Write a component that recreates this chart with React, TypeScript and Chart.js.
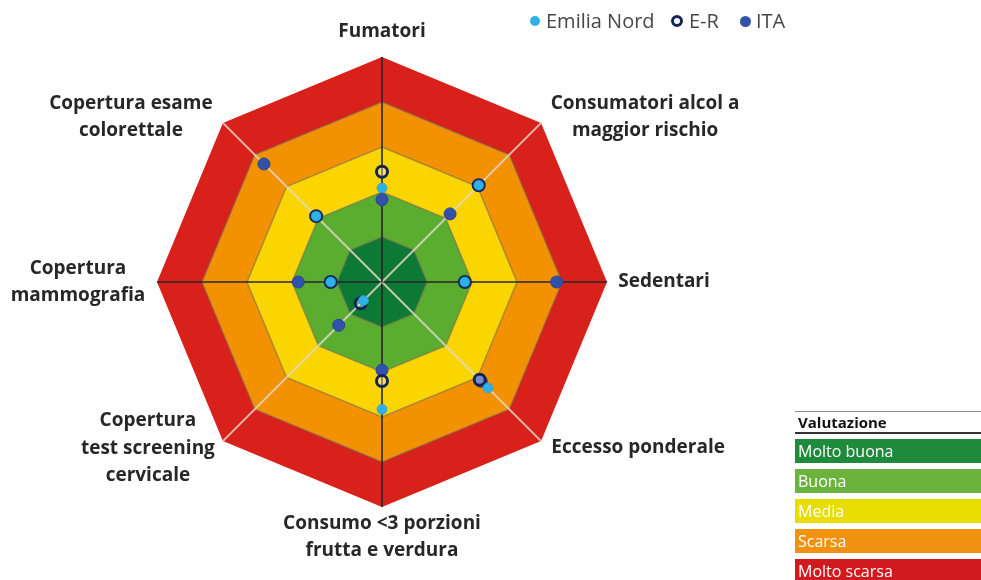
import React, { useEffect, useRef } from "react";
import { Chart, registerables } from "chart.js";

Chart.register(...registerables);

// ---- data ----
const categories: string[][] = [
  ["Fumatori"],
  ["Consumatori alcol a", "maggior rischio"],
  ["Sedentari"],
  ["Eccesso ponderale"],
  ["Consumo <3 porzioni", "frutta e verdura"],
  ["Copertura", "test screening", "cervicale"],
  ["Copertura", "mammografia"],
  ["Copertura esame", "colorettale"],
];
const seriesNames = ["Emilia Nord", "E-R", "ITA"];
const emiliaNord = [2.09, 3.04, 1.84, 3.33, 2.83, 0.58, 1.14, 2.07];
const emiliaRomagna = [2.45, 3.04, 1.84, 3.07, 2.2, 0.67, 1.14, 2.07];
const italia = [1.83, 2.14, 3.88, 3.12, 1.96, 1.36, 1.86, 3.71];
const bandNames = ["Molto buona", "Buona", "Media", "Scarsa", "Molto scarsa"];
const bandLevels = [1, 2, 3, 4, 5];
const bandColors = ["#0c7a35", "#5bad2f", "#fbd500", "#f39200", "#d9211b"];
const legendColors = ["#1d8a3c", "#6cb33e", "#e7de00", "#f0920f", "#d11a1f"];
const valutazioneTitle = "Valutazione";

// ---- layout (not data) ----
const LABEL_OFFSETS: [number, number][] = [
  [0, -25],
  [104, -6],
  [57, 0],
  [97, 6],
  [0, 30],
  [-75, 7],
  [-79, 0],
  [-92, -6],
];

const labelPlugin = {
  id: "axisLabels",
  afterDraw(chart: any) {
    const scale = chart.scales.r;
    const ctx = chart.ctx;
    ctx.save();
    ctx.font = 'bold 19px "Open Sans"';
    ctx.fillStyle = "#272727";
    ctx.textAlign = "center";
    ctx.textBaseline = "middle";
    categories.forEach((lines, i) => {
      const p = scale.getPointPosition(i, scale.drawingArea);
      const [dx, dy] = LABEL_OFFSETS[i];
      const cx = p.x + dx;
      const cy = p.y + dy;
      const lh = 27.5;
      lines.forEach((t, j) => {
        ctx.fillText(t, cx, cy + (j - (lines.length - 1) / 2) * lh);
      });
    });
    ctx.restore();
  },
};

const gridOverBands = {
  id: "gridOverBands",
  afterDatasetDraw(chart: any, args: any) {
    if (args.index === 3) {
      chart.scales.r.drawGrid(chart.chartArea);
    }
  },
};

export default function App() {
  const ref = useRef<HTMLCanvasElement | null>(null);

  useEffect(() => {
    if (!ref.current) return;
    const common = {
      showLine: false,
      fill: false,
      borderWidth: 0,
      borderColor: "rgba(0,0,0,0)",
      backgroundColor: "rgba(0,0,0,0)",
    };
    const pointSets = [
      {
        ...common,
        label: seriesNames[0],
        data: emiliaNord,
        pointRadius: 5,
        pointBackgroundColor: "#2fb0e6",
        pointBorderColor: "#1f9bd3",
        pointBorderWidth: 0.5,
      },
      {
        ...common,
        label: seriesNames[1],
        data: emiliaRomagna,
        pointRadius: 5.5,
        pointBackgroundColor: "rgba(255,255,255,0.35)",
        pointBorderColor: "#13245a",
        pointBorderWidth: 3,
      },
      {
        ...common,
        label: seriesNames[2],
        data: italia,
        pointRadius: 6,
        pointBackgroundColor: "#3152a8",
        pointBorderColor: "#28449a",
        pointBorderWidth: 1,
      },
    ];
    const bandSets = bandLevels.map((lvl, k) => ({
      label: bandNames[k],
      data: categories.map(() => lvl),
      fill: "origin",
      backgroundColor: bandColors[k],
      borderColor: k === 4 ? "rgba(0,0,0,0)" : "rgba(120,110,90,0.6)",
      borderWidth: 1.5,
      pointRadius: 0,
    }));
    const chart = new Chart(ref.current, {
      type: "radar",
      data: {
        labels: categories.map((l) => l.join(" ")),
        datasets: [...pointSets, ...bandSets] as any,
      },
      options: {
        responsive: false,
        animation: false,
        events: [],
        layout: { padding: { left: 157, right: 374, top: 57, bottom: 73 } },
        plugins: {
          legend: { display: false },
          tooltip: { enabled: false },
        },
        scales: {
          r: {
            min: 0,
            max: 5,
            startAngle: 0,
            ticks: { display: false, stepSize: 1 },
            grid: { display: false },
            angleLines: {
              display: true,
              color: (c: any) => (c.index % 2 === 0 ? "#262626" : "rgba(225,214,200,0.85)"),
              lineWidth: (c: any) => (c.index % 2 === 0 ? 1.6 : 2),
            },
            pointLabels: { display: false },
          },
        },
      } as any,
      plugins: [gridOverBands, labelPlugin],
    });
    return () => chart.destroy();
  }, []);

  const txt: React.CSSProperties = {
    position: "absolute",
    top: 7,
    fontFamily: '"Open Sans", sans-serif',
    fontSize: 20,
    lineHeight: "28px",
    color: "#474747",
    whiteSpace: "nowrap",
  };

  return (
    <div
      style={{
        position: "absolute",
        left: 0,
        top: 0,
        width: 981,
        height: 580,
        background: "#ffffff",
        overflow: "hidden",
      }}
    >
      <canvas ref={ref} width={981} height={580} style={{ position: "absolute", left: 0, top: 0 }} />
      {/* series legend */}
      <div style={{ position: "absolute", left: 530, top: 16, width: 10, height: 10, borderRadius: "50%", background: "#2fb0e6" }} />
      <div style={{ ...txt, left: 546 }}>{seriesNames[0]}</div>
      <div style={{ position: "absolute", left: 671, top: 15, width: 6, height: 6, borderRadius: "50%", border: "3px solid #13245a", background: "#fff" }} />
      <div style={{ ...txt, left: 689 }}>{seriesNames[1]}</div>
      <div style={{ position: "absolute", left: 740, top: 16, width: 11, height: 11, borderRadius: "50%", background: "#3152a8" }} />
      <div style={{ ...txt, left: 756 }}>{seriesNames[2]}</div>
      {/* valutazione legend */}
      <div style={{ position: "absolute", left: 795, top: 411, width: 186 }}>
        <div
          style={{
            borderTop: "1px solid #8a8a8a",
            borderBottom: "2px solid #333",
            height: 20,
            fontFamily: '"Open Sans", sans-serif',
            fontWeight: 700,
            fontSize: 15,
            lineHeight: "20px",
            color: "#111",
            paddingLeft: 3,
          }}
        >
          {valutazioneTitle}
        </div>
        {bandNames.map((n, k) => (
          <div
            key={n}
            style={{
              marginTop: k === 0 ? 5 : 6,
              height: 24,
              background: legendColors[k],
              color: "#ffffff",
              fontFamily: '"Open Sans", sans-serif',
              fontSize: 16,
              lineHeight: "24px",
              paddingLeft: 3,
            }}
          >
            {n}
          </div>
        ))}
      </div>
    </div>
  );
}
